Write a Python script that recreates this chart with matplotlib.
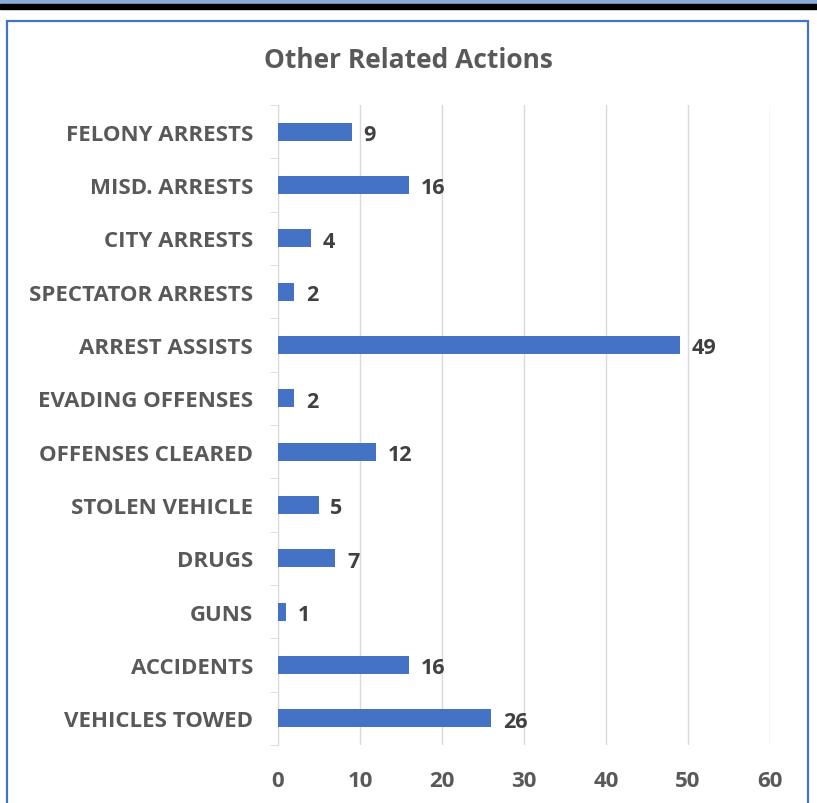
import matplotlib.pyplot as plt
from matplotlib.patches import Rectangle

categories = [
    "FELONY ARRESTS", "MISD. ARRESTS", "CITY ARRESTS", "SPECTATOR ARRESTS",
    "ARREST ASSISTS", "EVADING OFFENSES", "OFFENSES CLEARED", "STOLEN VEHICLE",
    "DRUGS", "GUNS", "ACCIDENTS", "VEHICLES TOWED",
]
values = [9, 16, 4, 2, 49, 2, 12, 5, 7, 1, 16, 26]
xticks = [0, 10, 20, 30, 40, 50, 60]

plt.rcParams['font.family'] = ['Open Sans', 'DejaVu Sans']
grey = '#595959'
bar_color = '#4472C4'

fig = plt.figure(figsize=(8.17, 8.04), dpi=100)
W, H = 817, 804

# header bands and chart frame
fig.patches.append(Rectangle((0, 1 - 5 / H), 1, 5 / H, transform=fig.transFigure,
                             color='#8EA9DB', zorder=0))
fig.patches.append(Rectangle((0, 1 - 10 / H), 1, 5 / H, transform=fig.transFigure,
                             color='black', zorder=0))
fig.patches.append(Rectangle((7 / W, -0.01), 801 / W, 1.01 - 22 / H,
                             transform=fig.transFigure, fill=False,
                             edgecolor='#4472C4', linewidth=1.6, zorder=0))

ax = fig.add_axes([278 / W, 1 - 746 / H, 492 / W, 640 / H])
y = list(range(len(categories)))
ax.barh(y, values, height=0.34, color=bar_color, zorder=3)
ax.set_ylim(len(categories) - 0.5, -0.5)
ax.set_xlim(0, 60)
ax.set_xticks(xticks)
ax.set_yticks(y)
ax.set_yticklabels(categories)

for yi, v in zip(y, values):
    ax.text(v + 1.4, yi + 0.05, str(v), va='center', ha='left',
            fontsize=15.5, fontweight='bold', color='#404040')

ax.grid(axis='x', color='#D9D9D9', linewidth=1, zorder=0)
for s in ['top', 'right', 'bottom']:
    ax.spines[s].set_visible(False)
ax.spines['left'].set_color('#D9D9D9')

# category separator ticks on left axis
ax.set_yticks([i - 0.5 for i in range(len(categories) + 1)], minor=True)
ax.tick_params(axis='y', which='minor', length=6, color='#D9D9D9')
ax.tick_params(axis='y', which='major', length=0, pad=18, labelsize=16,
               labelcolor=grey)
ax.tick_params(axis='x', length=0, pad=18, labelsize=16, labelcolor=grey)
for lab in ax.get_yticklabels() + ax.get_xticklabels():
    lab.set_fontweight('bold')

fig.text(408 / W, 1 - 60 / H, "Other Related Actions", ha='center', va='center',
         fontsize=19, fontweight='bold', color=grey)

fig.savefig('out.png', dpi=100)
